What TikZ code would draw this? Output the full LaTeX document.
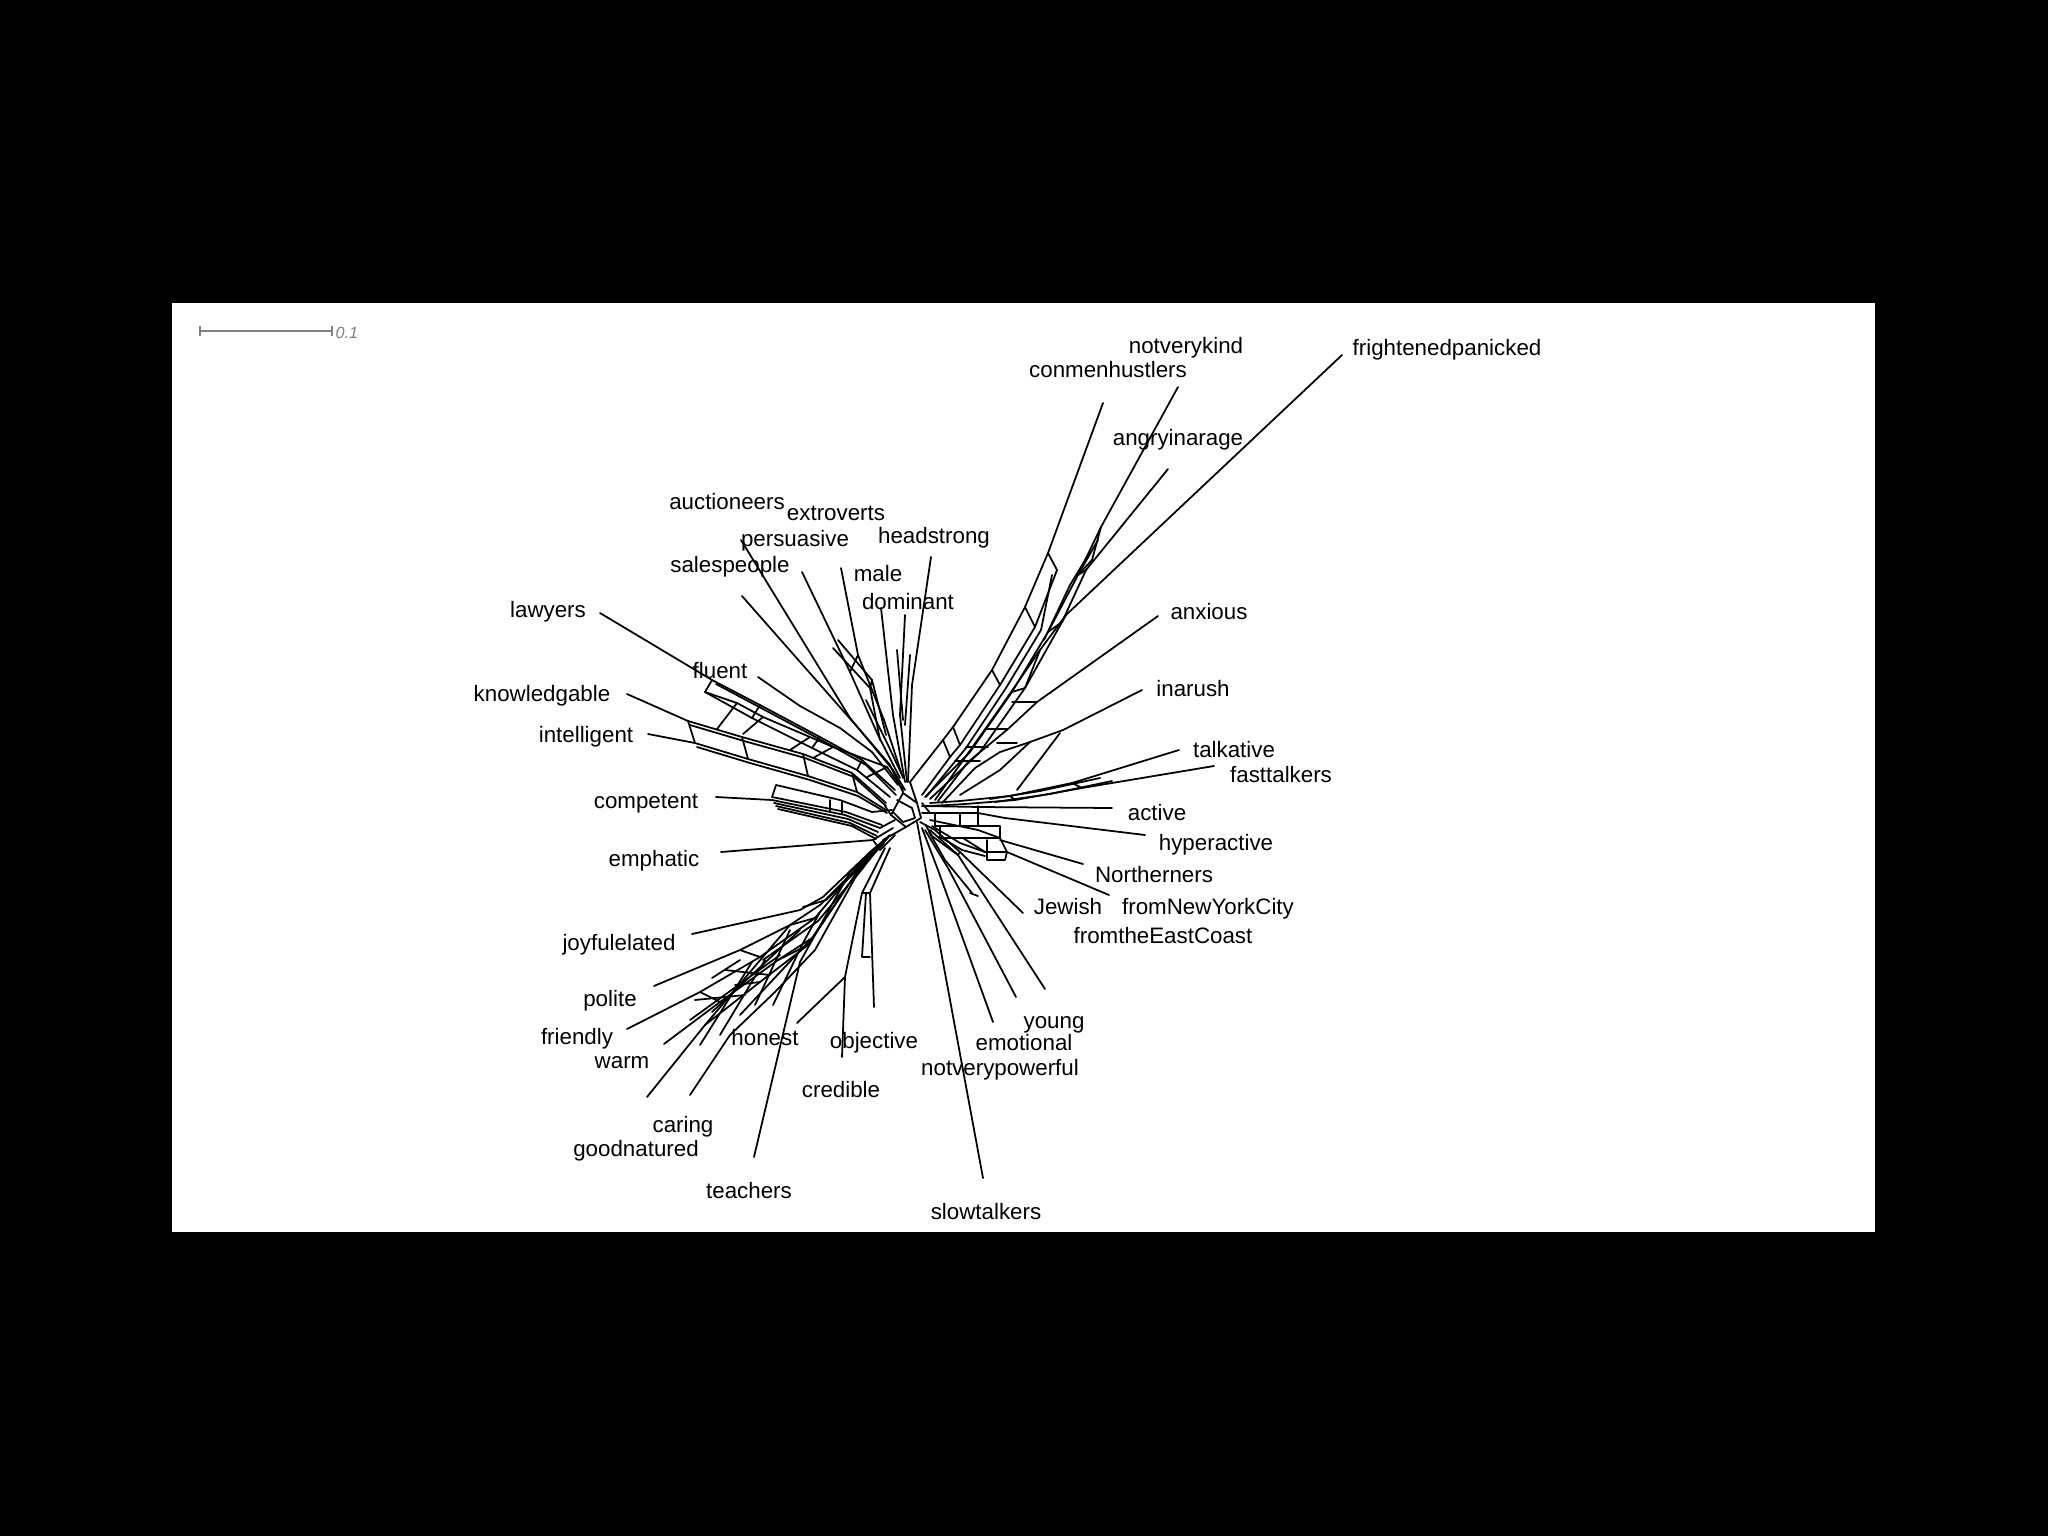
\documentclass[tikz,border=0pt]{standalone}
\usepackage{fontspec}
\setmainfont{Liberation Sans}
\begin{document}
\begin{tikzpicture}[x=0.01cm,y=-0.01cm,
  net/.style={line width=0.5pt, line join=round, line cap=round},
  lab/.style={font=\fontsize{6.35}{7.6}\selectfont, inner sep=0pt, anchor=base, yshift=-0.08cm},
  scalebar/.style={draw=gray, line width=0.5pt}]
\fill[black] (0,0) rectangle (2048,1536);
\useasboundingbox (0,0) rectangle (2048,1536);
\fill[white] (172,303) rectangle (1875,1232);

% scale bar
\coordinate (sb1) at (200,331);
\coordinate (sb2) at (332,331);
\draw[scalebar] (sb1) -- (sb2);
\draw[scalebar] ([yshift=0.05cm]sb1) -- ([yshift=-0.05cm]sb1);
\draw[scalebar] ([yshift=0.05cm]sb2) -- ([yshift=-0.05cm]sb2);
\node[font=\fontsize{4.6}{5.5}\selectfont\itshape, text=gray, inner sep=0pt, anchor=west] (sbl) at (335,333) {0.1};

% tips
\coordinate (t1) at (1342,355);
\coordinate (t2) at (1178,387);
\coordinate (t3) at (1103,403);
\coordinate (t4) at (1168,469);
\coordinate (t5) at (1158,616);
\coordinate (t6) at (1142,690);
\coordinate (t7) at (1179,750);
\coordinate (t8) at (1214,766);
\coordinate (t9) at (1112,808);
\coordinate (t10) at (1145,835);
\coordinate (t11) at (1083,864);
\coordinate (t12) at (1109,895);
\coordinate (t13) at (1023,913);
\coordinate (t15) at (1045,989);
\coordinate (t16) at (1016,997);
\coordinate (t17) at (993,1022);
\coordinate (t18) at (983,1178);
\coordinate (t19) at (842,1057);
\coordinate (t20) at (874,1007);
\coordinate (t21) at (797,1023);
\coordinate (t22) at (754,1157);
\coordinate (t23) at (690,1095);
\coordinate (t24) at (647,1097);
\coordinate (t25) at (664,1044);
\coordinate (t26) at (627,1029);
\coordinate (t27) at (654,986);
\coordinate (t28) at (692,934);
\coordinate (t29) at (721,852);
\coordinate (t30) at (716,797);
\coordinate (t31) at (648,734);
\coordinate (t32) at (627,694);
\coordinate (t33) at (600,613);
\coordinate (t34) at (758,677);
\coordinate (t35) at (742,596);
\coordinate (t36) at (741,540);
\coordinate (t37) at (802,572);
\coordinate (t38) at (841,568);
\coordinate (t39) at (881,608);
\coordinate (t40) at (905,615);
\coordinate (t41) at (931,557);

% hub
\coordinate (C) at (915,805);
\draw[net] (903,793) -- (917,803) -- (921,818) -- (906,827) -- (891,815) -- cycle;
\draw[net] (906,827) -- (883,840);
\draw[net] (891,815) -- (885,806);
\draw[net] (897,800) -- (912,808) -- (915,818) -- (903,822) -- (893,812);

% upper right band
\draw[net] (t3) -- (1048,553) -- (1025,607) -- (992,670) -- (953,727) -- (943,740) -- (910,782) -- (917,803);
\draw[net] (1048,553) -- (1057,570) -- (1035,627) -- (1000,685) -- (960,745) -- (950,757) -- (922,795);
\draw[net] (1025,607) -- (1035,627) (992,670) -- (1000,685) (953,727) -- (960,745) (943,740) -- (950,757);
\draw[net] (1052,575) -- (1041,630) -- (1006,688) -- (966,748) -- (926,797);
\draw[net] (t2) -- (1101,527) -- (1078,575) -- (1048,632) -- (1012,692) -- (970,752) -- (925,797);
\draw[net] (1101,527) -- (1092,560) -- (1078,575);
\draw[net] (1098,540) -- (1082,568);
\draw[net] (1090,552) -- (1070,585) -- (1044,640);
\draw[net] (t4) -- (1086,570) -- (1062,622) -- (1025,688) -- (980,752) -- (930,799);
\draw[net] (1078,575) -- (1086,570) (1048,632) -- (1062,622) (1012,692) -- (1025,688);
\draw[net] (t1) -- (1066,615) -- (1040,650) -- (1000,708) -- (935,800);
\draw[net] (1062,622) -- (1066,615) (1025,688) -- (1040,650);
\draw[net] (t5) -- (1037,702) -- (1008,729) -- (985,748) -- (968,762) -- (938,801);
\draw[net] (1012,702) -- (1037,702);
\draw[net] (t6) -- (1063,730) -- (1030,742) -- (1000,752) -- (975,768) -- (942,803);
\draw[net] (986,729) -- (1008,729) (997,743) -- (1017,743) (966,747) -- (988,747) (955,761) -- (980,761);
\draw[net] (1060,733) -- (1017,790);
\draw[net] (1030,742) -- (1000,770) -- (960,795);

% talkative / fasttalkers
\draw[net] (t7) -- (1072,783) -- (1010,796) -- (960,801) -- (930,803);
\draw[net] (t8) -- (1082,788) -- (1015,800) -- (965,804) -- (930,806);
\draw[net] (1100,778) -- (1040,791) -- (990,799);
\draw[net] (1112,781) -- (1050,794) -- (995,802);
\draw[net] (1072,783) -- (1082,788) (1010,796) -- (1015,800);

% right box cluster
\draw[net] (t9) -- (980,807) -- (922,806);
\draw[net] (t10) -- (1005,818) -- (978,813) -- (922,813);
\draw[net] (922,803) -- (930,813) (978,806) -- (978,826);
\draw[net] (935,813) -- (935,826) -- (978,826) (960,813) -- (960,826);
\draw[net] (940,826) -- (940,838) -- (1000,838) -- (1000,826) -- (978,826);
\draw[net] (963,838) -- (985,852) -- (1007,852) -- (1000,838);
\draw[net] (987,840) -- (987,860) -- (1005,860) -- (1007,852);
\draw[net] (t11) -- (1000,840) (1000,838) -- (978,830) -- (930,820);
\draw[net] (t12) -- (1007,852) (985,852) -- (960,843) -- (932,826);
\draw[net] (942,838) -- (962,850) -- (985,856);

% lower right fan
\draw[net] (t13) -- (960,852) -- (935,830) -- (920,822);
\draw[net] (t15) -- (958,855) -- (930,830);
\draw[net] (t16) -- (948,868) -- (925,830);
\draw[net] (t17) -- (938,870) -- (922,828);
\draw[net] (t18) -- (917,822);
\draw[net] (960,852) -- (958,855) (970,893) -- (978,896);
\draw[net] (926,826) -- (932,836) -- (958,855);
\draw[net] (929,832) -- (945,860) -- (972,893);

% left upper band (lawyers, fluent)
\draw[net] (t33) -- (712,680) -- (760,705) -- (820,737) -- (862,760) -- (895,790);
\draw[net] (712,680) -- (705,692) -- (752,718) -- (812,748) -- (857,770) -- (890,797);
\draw[net] (760,705) -- (752,718) (820,737) -- (812,748) (862,760) -- (857,770);
\draw[net] (716,684) -- (763,709) -- (823,741) -- (866,765) -- (896,795);
\draw[net] (t34) -- (800,706) -- (840,728) -- (872,752) -- (898,785);
% knowledgable / intelligent band
\draw[net] (t32) -- (688,721) -- (742,737) -- (803,754) -- (852,773) -- (886,803);
\draw[net] (t31) -- (695,743) -- (748,759) -- (808,776) -- (857,792) -- (886,810);
\draw[net] (690,725) -- (744,741) -- (805,758) -- (854,777) -- (886,806);
\draw[net] (697,747) -- (750,763) -- (810,780) -- (858,796) -- (887,813);
\draw[net] (688,721) -- (695,743) (742,737) -- (748,759) (803,754) -- (808,776) (852,773) -- (857,792);
\draw[net] (717,729) -- (737,703) -- (705,692);
\draw[net] (737,703) -- (763,717) -- (810,737) -- (833,747) -- (887,767) -- (903,790);
\draw[net] (743,734) -- (763,717) (790,750) -- (810,737) (813,758) -- (833,747) (867,777) -- (887,767);
% competent band
\draw[net] (t30) -- (772,800) -- (845,815) -- (880,828) -- (895,820);
\draw[net] (772,797) -- (846,812) -- (882,825);
\draw[net] (774,803) -- (848,819) -- (878,832);
\draw[net] (776,806) -- (850,823) -- (877,836);
\draw[net] (778,809) -- (852,826) -- (876,839);
\draw[net] (772,797) -- (776,785) -- (840,800) -- (872,812) -- (892,810);
\draw[net] (830,800) -- (830,812) (842,802) -- (842,814);
% emphatic
\draw[net] (t29) -- (873,840) -- (893,828);
\draw[net] (873,840) -- (880,850) -- (895,835);

% upper fan
\draw[net] (t36) -- (850,718) -- (893,770) -- (905,790);
\draw[net] (t35) -- (860,730) -- (890,765) -- (903,792);
\draw[net] (t37) -- (850,672) -- (878,735) -- (900,778);
\draw[net] (t38) -- (858,655) -- (884,720) -- (903,778);
\draw[net] (t39) -- (893,715) -- (905,782);
\draw[net] (t40) -- (900,715) -- (907,782);
\draw[net] (t41) -- (912,685) -- (908,782);
\draw[net] (833,648) -- (870,688) -- (880,740);
\draw[net] (838,640) -- (872,680) -- (886,735);
\draw[net] (850,672) -- (858,655) (870,688) -- (872,680);
\draw[net] (897,650) -- (903,720) (910,655) -- (905,725);
\draw[net] (866,700) -- (888,745) -- (902,775);

% lower left band
\draw[net] (t28) -- (800,910) -- (823,897) -- (870,852) -- (890,835);
\draw[net] (t27) -- (740,950) -- (790,925) -- (820,905) -- (868,857) -- (888,838);
\draw[net] (t26) -- (700,992) -- (760,957) -- (815,918) -- (862,862) -- (885,840);
\draw[net] (t25) -- (720,1002) -- (778,960) -- (812,938) -- (860,868) -- (884,843);
\draw[net] (t24) -- (705,1025) -- (760,982) -- (808,945) -- (857,872) -- (882,845);
\draw[net] (t23) -- (730,1035) -- (775,992) -- (815,950) -- (855,878) -- (880,846);
\draw[net] (t22) -- (800,962) -- (815,935) -- (850,872) -- (880,845);
\draw[net] (803,907) -- (826,900) -- (873,855);
\draw[net] (763,960) -- (818,921) -- (865,865);
\draw[net] (700,992) -- (720,1002) (740,950) -- (760,957) (790,925) -- (815,918) (778,960) -- (808,945);
\draw[net] (690,1020) -- (780,955) (712,1012) -- (800,930) (720,1035) -- (765,960);
\draw[net] (740,1015) -- (812,938) (705,1025) -- (790,925) (735,985) -- (760,982);
\draw[net] (712,978) -- (740,960) (755,1005) -- (790,930);
\draw[net] (695,1000) -- (745,995) (725,970) -- (770,975) (700,1045) -- (752,962);
\draw[net] (t21) -- (845,977);
\draw[net] (773,1005) -- (803,943) -- (820,912);
\draw[net] (t19) -- (845,977) -- (862,893) -- (885,848);
\draw[net] (t20) -- (870,893) -- (890,848);
\draw[net] (862,957) -- (870,957) (862,957) -- (866,893);
\draw[net] (862,893) -- (870,893);

% labels
\node[lab] (l1) at (1447,347) {frightenedpanicked};
\node[lab] (l2) at (1186,345) {notverykind};
\node[lab] (l3) at (1108,369) {conmenhustlers};
\node[lab] (l4) at (1178,437) {angryinarage};
\node[lab] (l5) at (1209,611) {anxious};
\node[lab] (l6) at (1193,688) {inarush};
\node[lab] (l7) at (1234,749) {talkative};
\node[lab] (l8) at (1281,774) {fasttalkers};
\node[lab] (l9) at (1157,812) {active};
\node[lab] (l10) at (1216,842) {hyperactive};
\node[lab] (l11) at (1154,874) {Northerners};
\node[lab] (l12) at (1208,906) {fromNewYorkCity};
\node[lab] (l13) at (1068,906) {Jewish};
\node[lab] (l14) at (1163,935) {fromtheEastCoast};
\node[lab] (l15) at (1054,1020) {young};
\node[lab] (l16) at (1024,1042) {emotional};
\node[lab] (l17) at (1000,1067) {notverypowerful};
\node[lab] (l18) at (986,1211) {slowtalkers};
\node[lab] (l19) at (841,1089) {credible};
\node[lab] (l20) at (874,1040) {objective};
\node[lab] (l21) at (765,1037) {honest};
\node[lab] (l22) at (749,1190) {teachers};
\node[lab] (l23) at (683,1124) {caring};
\node[lab] (l24) at (636,1148) {goodnatured};
\node[lab] (l25) at (622,1060) {warm};
\node[lab] (l26) at (577,1036) {friendly};
\node[lab] (l27) at (610,998) {polite};
\node[lab] (l28) at (619,942) {joyfulelated};
\node[lab] (l29) at (654,858) {emphatic};
\node[lab] (l30) at (646,800) {competent};
\node[lab] (l31) at (586,734) {intelligent};
\node[lab] (l32) at (542,693) {knowledgable};
\node[lab] (l33) at (548,609) {lawyers};
\node[lab] (l34) at (720,670) {fluent};
\node[lab] (l35) at (730,564) {salespeople};
\node[lab] (l36) at (727,501) {auctioneers};
\node[lab] (l37) at (795,538) {persuasive};
\node[lab] (l38) at (836,512) {extroverts};
\node[lab] (l39) at (878,573) {male};
\node[lab] (l40) at (908,601) {dominant};
\node[lab] (l41) at (934,535) {headstrong};
\end{tikzpicture}
\end{document}
